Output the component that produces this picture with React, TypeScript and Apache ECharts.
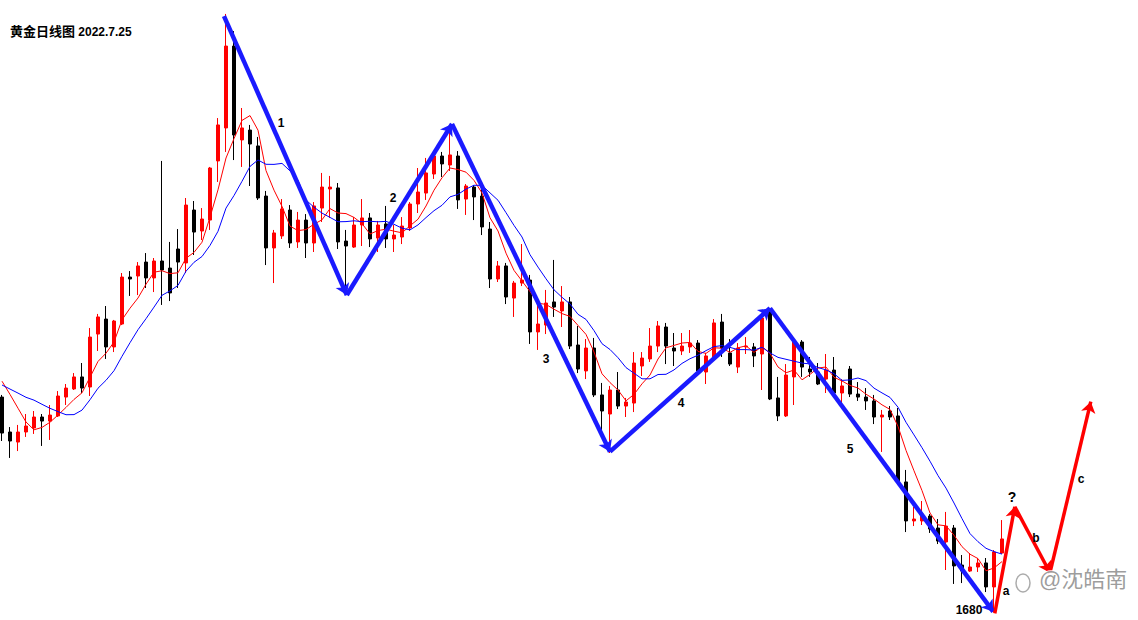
import React, { useEffect, useRef } from "react";
import * as echarts from "echarts";

// closes of the nine sessions before the first visible candle (for the moving averages)
const preCloses = [1821, 1827, 1832, 1829, 1835, 1838, 1846, 1850, 1836];

const openPrices = [
  1823.3, 1800, 1793.3, 1800, 1802.7, 1810, 1807.3, 1810.7, 1823.3, 1828.7,
  1836.7, 1830, 1865.3, 1875.3, 1856.7, 1872, 1903.3, 1904, 1913.3, 1902.7,
  1914, 1909.3, 1922, 1912.7, 1948, 1934, 1941.3, 1980.7, 2002.7, 2057.3,
  1994.7, 2001.3, 1990.7, 1957.3, 1922.7, 1930.7, 1948, 1926.7, 1941.3, 1926,
  1949.3, 1962, 1962.7, 1927.3, 1923.3, 1938, 1942.7, 1929.3, 1938.7, 1928.7,
  1930, 1936, 1952, 1959.3, 1972, 1984, 1978, 1984, 1955.3, 1963.3,
  1957.3, 1935.3, 1902, 1910.7, 1889.3, 1899.3, 1901.3, 1866.7, 1871.3, 1886.7,
  1880.7, 1886.7, 1858, 1840.7, 1856, 1824.7, 1812, 1828, 1817.3, 1819.3,
  1844, 1848.7, 1857.3, 1870, 1856, 1854, 1856.7, 1859.3, 1840, 1850,
  1873.3, 1852.7, 1843.3, 1856.7, 1856.7, 1852, 1881.3, 1822.7, 1810.7, 1836.7,
  1860, 1842, 1840, 1835.3, 1841.3, 1826, 1842, 1825.3, 1823.3, 1820.7,
  1810, 1814, 1810.7, 1766.7, 1740.7, 1740.7, 1744, 1736, 1726.7, 1736,
  1711.3, 1707.3, 1710, 1712.7, 1696.7, 1719.3,
];

const closePrices = [
  1799.3, 1794, 1800, 1804, 1810, 1807.3, 1811.3, 1824, 1829.3, 1836.7,
  1829.3, 1863.3, 1876.7, 1856.7, 1874, 1903.3, 1902, 1910.7, 1902.7, 1914,
  1908, 1892.7, 1913.3, 1951.3, 1933.3, 1942, 1976, 2004.7, 2057.3, 1998,
  2002.7, 1992, 1956, 1922.7, 1932.7, 1948.7, 1926, 1941.3, 1926, 1950.7,
  1963.3, 1963.3, 1926.7, 1924, 1938, 1942.7, 1928.7, 1938, 1928.7, 1931.3,
  1937.3, 1952, 1960, 1972.7, 1984, 1978.7, 1984.7, 1954.7, 1964, 1956.7,
  1936.7, 1902, 1910.7, 1890, 1899.3, 1901.3, 1866.7, 1872, 1886, 1883.3,
  1886.7, 1857.3, 1842, 1856, 1824.7, 1814, 1828, 1817.3, 1820, 1846,
  1849.3, 1857.3, 1870.7, 1857.3, 1854, 1857.3, 1859.3, 1840.7, 1850.7, 1872.7,
  1856, 1845.3, 1856, 1857.3, 1850.7, 1876, 1822, 1810.7, 1838, 1860,
  1843.3, 1840, 1832, 1841.3, 1826, 1830.7, 1825.3, 1823.3, 1820.7, 1810,
  1811.3, 1810, 1766.7, 1740.7, 1742, 1745.3, 1735.3, 1727.3, 1737.3, 1710.7,
  1707.3, 1710, 1712.7, 1696.7, 1720, 1728.7,
];

const lowPrices = [
  1794, 1782.7, 1787.3, 1796.7, 1798.7, 1790.7, 1794.7, 1810, 1818, 1828,
  1826, 1824, 1854, 1848.7, 1853.3, 1871.3, 1890.7, 1891.3, 1896, 1893.3,
  1884.7, 1887.3, 1896, 1906, 1918, 1928, 1934.7, 1966.7, 1986.7, 1981.3,
  1976.7, 1964, 1954.7, 1911.3, 1899.3, 1928.7, 1922.7, 1922.7, 1916, 1920,
  1940, 1942.7, 1922, 1892.7, 1922.7, 1924, 1923.3, 1920, 1922.7, 1920,
  1925.3, 1934, 1946, 1954.7, 1968.7, 1970, 1974, 1948.7, 1944.7, 1941.3,
  1931.3, 1896, 1900, 1885.3, 1876.7, 1897.3, 1858.7, 1854.7, 1865.3, 1876.7,
  1870, 1855.3, 1839.3, 1835.3, 1823.3, 1801.3, 1786, 1815.3, 1810, 1813.3,
  1837.3, 1846.7, 1853.3, 1845.3, 1844, 1851.3, 1852.7, 1839.3, 1832, 1849.3,
  1850, 1844, 1839.3, 1852, 1843.3, 1828, 1821.3, 1807.3, 1810, 1818,
  1836.7, 1836.7, 1831.3, 1826, 1824.7, 1819.3, 1823.3, 1820.7, 1814.7, 1805.3,
  1786.7, 1808, 1765.3, 1733.3, 1737.3, 1738, 1732.7, 1725.3, 1708, 1698.7,
  1699.3, 1706.7, 1706.7, 1693.3, 1680, 1718.7,
];

const highPrices = [
  1824.7, 1803.3, 1804.7, 1812, 1814, 1812, 1818, 1827.3, 1832, 1839.3,
  1846, 1869.3, 1878.7, 1884, 1874.7, 1906, 1907.3, 1913.3, 1919.3, 1916,
  1980.7, 1926.7, 1935.3, 1956, 1954, 1949.3, 1976.7, 2009.3, 2078.7, 2067.3,
  2016, 2004.7, 1996.7, 1960.7, 1934.7, 1955.3, 1951.3, 1946.7, 1945.3, 1953.3,
  1972.7, 1970.7, 1966, 1934.7, 1943.3, 1955.3, 1946, 1940.7, 1950.7, 1938,
  1943.3, 1953.3, 1976, 1982.7, 1986, 1986.7, 2003.3, 1987.3, 1965.3, 1964.7,
  1964.7, 1940, 1914, 1912.7, 1900.7, 1925.3, 1904.7, 1885.3, 1894.7, 1914.7,
  1897.3, 1890, 1870.7, 1862, 1862.7, 1832.7, 1830.7, 1840, 1822.7, 1853.3,
  1853.3, 1869.3, 1874, 1872.7, 1866, 1866, 1868, 1861.3, 1852.7, 1875.3,
  1878.7, 1862, 1859.3, 1863.3, 1859.3, 1876.7, 1882.7, 1836.7, 1845.3, 1863.3,
  1861.3, 1850, 1846, 1852, 1850, 1835.3, 1844, 1833.3, 1829.3, 1824.7,
  1814.7, 1817.3, 1816, 1774.7, 1750, 1754, 1745.3, 1742, 1746.7, 1738,
  1718, 1719.3, 1716, 1716, 1721.3, 1741.3,
];

// Elliott wave path (blue) and projected a-b-c path (red): session index, price
const waveX = [27.75, 43.1, 56.25, 76, 96, 123.9];
const waveY = [2077.3, 1891.3, 2005.3, 1786.9, 1882.5, 1680.2];
const projX = [124.1, 126.6, 131, 136.1];
const projY = [1679.1, 1750.2, 1706.2, 1820.2];

const futureSessions = 16;
const categories = Array.from(
  { length: openPrices.length + futureSessions },
  (_, i) => `D${i + 1}`
);

const allCloses = [...preCloses, ...closePrices];
function movingAverage(period: number) {
  const off = preCloses.length;
  return closePrices.map((_, i) => {
    let s = 0;
    for (let k = 0; k < period; k++) s += allCloses[off + i - k];
    return +(s / period).toFixed(2);
  });
}

function segments(xs: number[], ys: number[]) {
  const out: any[] = [];
  for (let i = 0; i < xs.length - 1; i++) {
    out.push({ coords: [[xs[i], ys[i]], [xs[i + 1], ys[i + 1]]] });
  }
  return out;
}

const FONT = '"Liberation Sans", Arial, "Noto Sans CJK SC", sans-serif';

function label(text: string, x: number, y: number, size = 12) {
  return {
    type: "text",
    x,
    y,
    z: 20,
    style: {
      text,
      fill: "#000000",
      font: `bold ${size}px ${FONT}`,
      align: "center",
      verticalAlign: "middle",
    },
  };
}

export default function App() {
  const ref = useRef<HTMLDivElement>(null);
  useEffect(() => {
    document.body.style.margin = "0";
    if (!ref.current) return;
    const chart = echarts.init(ref.current, null, { renderer: "svg" });
    const candleData = openPrices.map((o, i) => [o, closePrices[i], lowPrices[i], highPrices[i]]);
    const option: any = {
      animation: false,
      backgroundColor: "#ffffff",
      grid: { left: 2, right: 8, top: 0, height: 618 },
      xAxis: [
        { type: "category", data: categories, boundaryGap: false, show: false },
        { type: "value", min: 0, max: categories.length - 1, show: false },
      ],
      yAxis: { type: "value", min: 1676, max: 2088, show: false },
      series: [
        {
          type: "candlestick",
          data: candleData,
          barWidth: 4,
          clip: false,
          itemStyle: {
            color: "#ff0000",
            color0: "#000000",
            borderColor: "#ff0000",
            borderColor0: "#000000",
            borderWidth: 1,
          },
          z: 2,
        },
        {
          type: "line",
          data: movingAverage(5),
          symbol: "none",
          lineStyle: { color: "#ff0000", width: 1 },
          z: 3,
        },
        {
          type: "line",
          data: movingAverage(10),
          symbol: "none",
          lineStyle: { color: "#0000ff", width: 1 },
          z: 3,
        },
        {
          type: "lines",
          coordinateSystem: "cartesian2d",
          xAxisIndex: 1,
          yAxisIndex: 0,
          data: segments(waveX, waveY),
          symbol: ["none", "arrow"],
          symbolSize: 11,
          lineStyle: { color: "#1a1aff", width: 4.5, opacity: 1, curveness: 0 },
          z: 5,
        },
        {
          type: "lines",
          coordinateSystem: "cartesian2d",
          xAxisIndex: 1,
          yAxisIndex: 0,
          data: segments(projX, projY),
          symbol: ["none", "arrow"],
          symbolSize: 11,
          lineStyle: { color: "#ff0000", width: 3.5, opacity: 1, curveness: 0 },
          z: 5,
        },
      ],
      graphic: [
        {
          type: "text",
          left: 10,
          top: 25,
          z: 20,
          style: {
            text: "{cn|黄金日线图} {num|2022.7.25}",
            rich: {
              cn: { fill: "#000", font: `bold 13px ${FONT}` },
              num: { fill: "#000", font: `bold 12px ${FONT}` },
            },
          },
        },
        label("1", 281, 123),
        label("2", 393, 198),
        label("3", 546, 359),
        label("4", 681, 403),
        label("5", 850, 449),
        label("?", 1012, 497, 14),
        label("a", 1006, 591),
        label("b", 1036, 538),
        label("c", 1081, 479),
        label("1680", 969, 610),
        {
          type: "ellipse",
          shape: { cx: 1023, cy: 583, rx: 7, ry: 9 },
          z: 21,
          style: { fill: "none", stroke: "rgba(150,150,150,0.8)", lineWidth: 1.5 },
        },
        {
          type: "text",
          x: 1039,
          y: 579,
          z: 21,
          style: {
            text: "@沈皓南",
            fill: "rgba(140,140,140,0.85)",
            stroke: "rgba(255,255,255,0.9)",
            lineWidth: 1.5,
            font: `22px ${FONT}`,
            align: "left",
            verticalAlign: "middle",
          },
        },
      ],
    };
    chart.setOption(option);
    return () => chart.dispose();
  }, []);
  return <div ref={ref} style={{ width: 1138, height: 620 }} />;
}
